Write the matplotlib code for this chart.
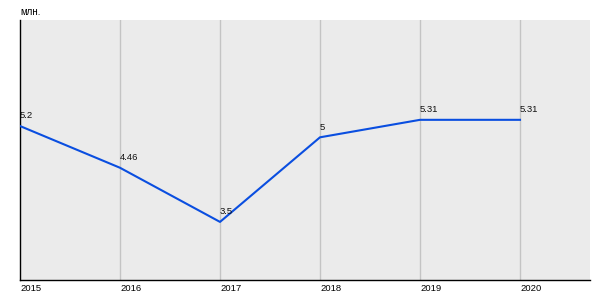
import matplotlib

matplotlib.use("Agg")
import matplotlib.pyplot as plt

plt.rcParams["font.family"] = ["Liberation Sans", "DejaVu Sans"]

years = [2015, 2016, 2017, 2018, 2019, 2020]
values = [5.2, 4.46, 3.5, 5.0, 5.31, 5.31]
value_labels = ["5.2", "4.46", "3.5", "5", "5.31", "5.31"]
unit = "млн."

fig = plt.figure(figsize=(6, 3), dpi=100)
ax = fig.add_axes([20 / 600, 20 / 300, 570 / 600, 260 / 300])
ax.set_facecolor("#ebebeb")

ax.set_xlim(2015, 2020.7)
ax.set_ylim(2.47, 7.08)

for yr in years[1:]:
    ax.axvline(yr, color="#c4c4c4", lw=1, zorder=1)

ax.plot(years, values, color="#0a4ee0", lw=1.5, zorder=3)
for x, v, lab in zip(years, values, value_labels):
    ax.annotate(lab, (x, v), xytext=(0, 4), textcoords="offset points",
                ha="left", va="bottom", fontsize=6.8, color="#111111")

ax.set_yticks([])
ax.set_xticks(years)
ax.set_xticklabels([str(y) for y in years], ha="left", fontsize=6.8)
ax.tick_params(axis="x", length=0, pad=3)
ax.spines[["top", "right"]].set_visible(False)
ax.spines[["left", "bottom"]].set_color("black")
ax.spines[["left", "bottom"]].set_linewidth(1)

fig.text(20 / 600, 1 - 12 / 300, unit, ha="left", va="center", fontsize=7)

fig.savefig("out.png", dpi=100)
